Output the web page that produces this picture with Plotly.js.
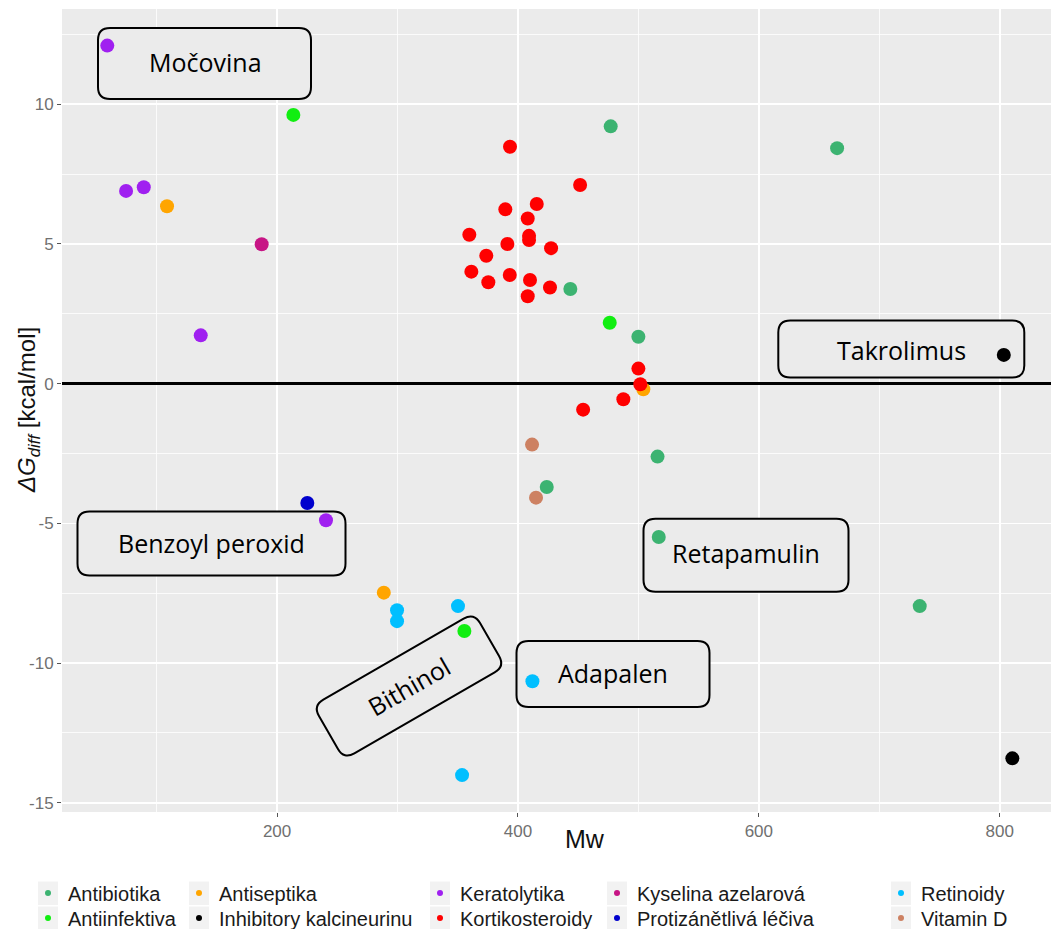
<!DOCTYPE html>
<html>
<head>
<meta charset="utf-8">
<script src="https://cdn.plot.ly/plotly-3.0.1.min.js"></script>
<style>html,body{margin:0;padding:0;background:#fff;overflow:hidden;}</style>
</head>
<body>
<div id="chart" style="width:1051px;height:929px;"></div>
<script>
// ---------------- DATA ----------------
const categories = ['Antibiotika','Antiinfektiva','Antiseptika','Inhibitory kalcineurinu','Keratolytika',
                    'Kortikosteroidy','Kyselina azelarová','Protizánětlivá léčiva','Retinoidy','Vitamin D'];

const antibiotikaMw = [477.0, 443.5, 500.0, 515.9, 423.9, 516.9, 733.6, 665.0];
const antibiotikaDG = [9.21, 3.39, 1.68, -2.61, -3.70, -5.49, -7.96, 8.43];

const antiinfektivaMw = [213.5, 476.2, 355.5];
const antiinfektivaDG = [9.62, 2.18, -8.85];

const antiseptikaMw = [108.6, 504.1, 288.6];
const antiseptikaDG = [6.35, -0.20, -7.48];

const inhibitoryMw = [803.4, 810.5];
const inhibitoryDG = [1.03, -13.41];

const keratolytikaMw = [59.0, 74.6, 89.3, 136.6, 240.6];
const keratolytikaDG = [12.10, 6.90, 7.03, 1.73, -4.89];

const kortikosteroidyMw = [393.4, 451.6, 389.5, 415.6, 408.1, 359.6, 409.2, 409.2, 391.2, 427.5, 373.7,
                           361.3, 375.4, 393.2, 410.0, 426.6, 408.1, 500.0, 501.6, 487.5, 454.1];
const kortikosteroidyDG = [8.48, 7.11, 6.24, 6.43, 5.91, 5.33, 5.29, 5.14, 5.00, 4.85, 4.58,
                           4.01, 3.63, 3.89, 3.71, 3.44, 3.13, 0.54, -0.02, -0.56, -0.93];

const kyselinaMw = [187.2];
const kyselinaDG = [4.99];

const protizanetlivaMw = [225.1];
const protizanetlivaDG = [-4.27];

const retinoidyMw = [299.6, 299.6, 350.2, 412.0, 353.6];
const retinoidyDG = [-8.11, -8.50, -7.96, -10.65, -14.01];

const vitaminDMw = [411.7, 415.0];
const vitaminDDG = [-2.18, -4.08];

const labelTexts = ['Močovina', 'Takrolimus', 'Retapamulin', 'Adapalen', 'Benzoyl peroxid', 'Bithinol'];

const xTickVals = [200, 400, 600, 800];
const yTickVals = [-15, -10, -5, 0, 5, 10];

// ---------------- STYLE / LAYOUT ----------------
const seriesMw = [antibiotikaMw, antiinfektivaMw, antiseptikaMw, inhibitoryMw, keratolytikaMw,
                  kortikosteroidyMw, kyselinaMw, protizanetlivaMw, retinoidyMw, vitaminDMw];
const seriesDG = [antibiotikaDG, antiinfektivaDG, antiseptikaDG, inhibitoryDG, keratolytikaDG,
                  kortikosteroidyDG, kyselinaDG, protizanetlivaDG, retinoidyDG, vitaminDDG];
const colors = ['#3CB371', '#11EE11', '#FFA500', '#000000', '#A020F0',
                '#FF0000', '#C71585', '#0000CD', '#00BFFF', '#CD8162'];

const W = 1051, H = 929;
const L = 62, T = 9, PW = 989, PH = 803;
const xr = [21.4, 842.6], yr = [-15.33, 13.41];
const px2x = px => xr[0] + (px - L) / PW * (xr[1] - xr[0]);
const py2y = py => yr[1] - (py - T) / PH * (yr[1] - yr[0]);
const px2p = px => (px - L) / PW;
const py2p = py => (T + PH - py) / PH;

const traces = [];
for (let i = 0; i < categories.length; i++) {
  traces.push({
    type: 'scatter', mode: 'markers', x: seriesMw[i], y: seriesDG[i],
    name: categories[i], showlegend: false,
    marker: {color: colors[i], size: 14, line: {width: 0}},
    hoverinfo: 'x+y+name'
  });
}
// legend entries (small dots), each in its own legend for exact column placement
const colDotX = [48, 199, 440, 617, 901];
const rowY = [893, 918];
const legends = {};
const keyShapes = [];
for (let i = 0; i < categories.length; i++) {
  const col = Math.floor(i / 2), row = i % 2;
  const id = i === 0 ? 'legend' : 'legend' + (i + 1);
  traces.push({
    type: 'scatter', mode: 'markers', x: [null], y: [null],
    name: categories[i], legend: id, showlegend: true, hoverinfo: 'skip',
    marker: {color: colors[i], size: 6}
  });
  legends[id] = {
    x: px2p(colDotX[col] - 20), y: py2p(rowY[row]), xanchor: 'left', yanchor: 'middle',
    bgcolor: 'rgba(0,0,0,0)', borderwidth: 0,
    font: {family: 'Liberation Sans, Arial, sans-serif', size: 20, color: '#1a1a1a'},
    itemclick: false, itemdoubleclick: false
  };
  keyShapes.push({
    type: 'rect', xref: 'paper', yref: 'paper', layer: 'below',
    x0: px2p(colDotX[col] - 10), x1: px2p(colDotX[col] + 10),
    y0: py2p(rowY[row] + 12), y1: py2p(rowY[row] - 11.5),
    fillcolor: '#F2F2F2', line: {width: 0}
  });
}

// rounded rectangle path in pixels (y up), rotated CCW by angDeg
function rrPath(w, h, r, angDeg) {
  const a = angDeg * Math.PI / 180, c = Math.cos(a), s = Math.sin(a);
  const P = (x, y) => (x * c - y * s).toFixed(2) + ',' + (x * s + y * c).toFixed(2);
  const hw = w / 2, hh = h / 2;
  return 'M' + P(-hw + r, -hh) + ' L' + P(hw - r, -hh) + ' Q' + P(hw, -hh) + ' ' + P(hw, -hh + r) +
         ' L' + P(hw, hh - r) + ' Q' + P(hw, hh) + ' ' + P(hw - r, hh) +
         ' L' + P(-hw + r, hh) + ' Q' + P(-hw, hh) + ' ' + P(-hw, hh - r) +
         ' L' + P(-hw, -hh + r) + ' Q' + P(-hw, -hh) + ' ' + P(-hw + r, -hh) + ' Z';
}
// label boxes: [cx, cy, w, h, angle, textX, textY]
const boxes = [
  [204.5, 63.5, 213, 71, 0, 205, 62],
  [901.3, 349, 246, 57, 0, 901, 350],
  [746, 555.3, 205, 73, 0, 746, 553],
  [613, 674, 193, 66, 0, 613, 673],
  [211.5, 543.5, 268, 64, 0, 211.5, 543],
  [409, 686, 186, 62, 30, 409, 686]
];
const shapes = keyShapes.slice();
const annotations = [];
boxes.forEach((b, i) => {
  shapes.push({
    type: 'path', xref: 'x', yref: 'y', xsizemode: 'pixel', ysizemode: 'pixel',
    xanchor: px2x(b[0]), yanchor: py2y(b[1]), path: rrPath(b[2], b[3], 12, b[4]),
    fillcolor: '#EBEBEB', line: {color: '#000000', width: 2}, layer: 'between'
  });
  annotations.push({
    xref: 'paper', yref: 'paper', x: px2p(b[5]), y: py2p(b[6]), xanchor: 'center', yanchor: 'middle',
    text: labelTexts[i], showarrow: false, textangle: -b[4],
    font: {family: 'Open Sans, sans-serif', size: 25, color: '#000000'}
  });
});
annotations.push({
  xref: 'paper', yref: 'paper', x: px2p(585), y: py2p(839), xanchor: 'center', yanchor: 'middle',
  text: 'Mw', showarrow: false, font: {family: 'Liberation Sans, Arial, sans-serif', size: 25, color: '#111'}
});
annotations.push({
  xref: 'paper', yref: 'paper', x: px2p(28), y: py2p(410), xanchor: 'center', yanchor: 'middle',
  text: '<i>ΔG</i><sub><i>diff</i></sub> [kcal/mol]', showarrow: false, textangle: -90,
  font: {family: 'Liberation Sans, Arial, sans-serif', size: 24, color: '#111'}
});

const layout = Object.assign({
  width: W, height: H,
  margin: {l: L, r: W - L - PW, t: T, b: H - T - PH, autoexpand: false},
  paper_bgcolor: '#ffffff', plot_bgcolor: '#EBEBEB',
  showlegend: true,
  xaxis: {
    range: xr, tickvals: xTickVals, ticktext: xTickVals.map(String),
    showgrid: true, gridcolor: '#ffffff', gridwidth: 1.6, zeroline: false, showline: false,
    ticks: 'outside', ticklen: 4, tickcolor: '#555', tickwidth: 1,
    tickfont: {family: 'Liberation Sans, Arial, sans-serif', size: 17, color: '#707070'},
    minor: {dtick: 100, tick0: 0, showgrid: true, gridcolor: '#ffffff', gridwidth: 0.8, ticks: ''}
  },
  yaxis: {
    range: yr, tickvals: yTickVals, ticktext: yTickVals.map(String),
    showgrid: true, gridcolor: '#ffffff', gridwidth: 1.6,
    zeroline: true, zerolinecolor: '#000000', zerolinewidth: 3, showline: false,
    ticks: 'outside', ticklen: 4, tickcolor: '#555', tickwidth: 1,
    tickfont: {family: 'Liberation Sans, Arial, sans-serif', size: 17, color: '#707070'},
    minor: {dtick: 2.5, tick0: 0, showgrid: true, gridcolor: '#ffffff', gridwidth: 0.8, ticks: ''}
  },
  shapes: shapes,
  annotations: annotations
}, legends);

Plotly.newPlot('chart', traces, layout, {displayModeBar: false, staticPlot: true});
</script>
</body>
</html>
